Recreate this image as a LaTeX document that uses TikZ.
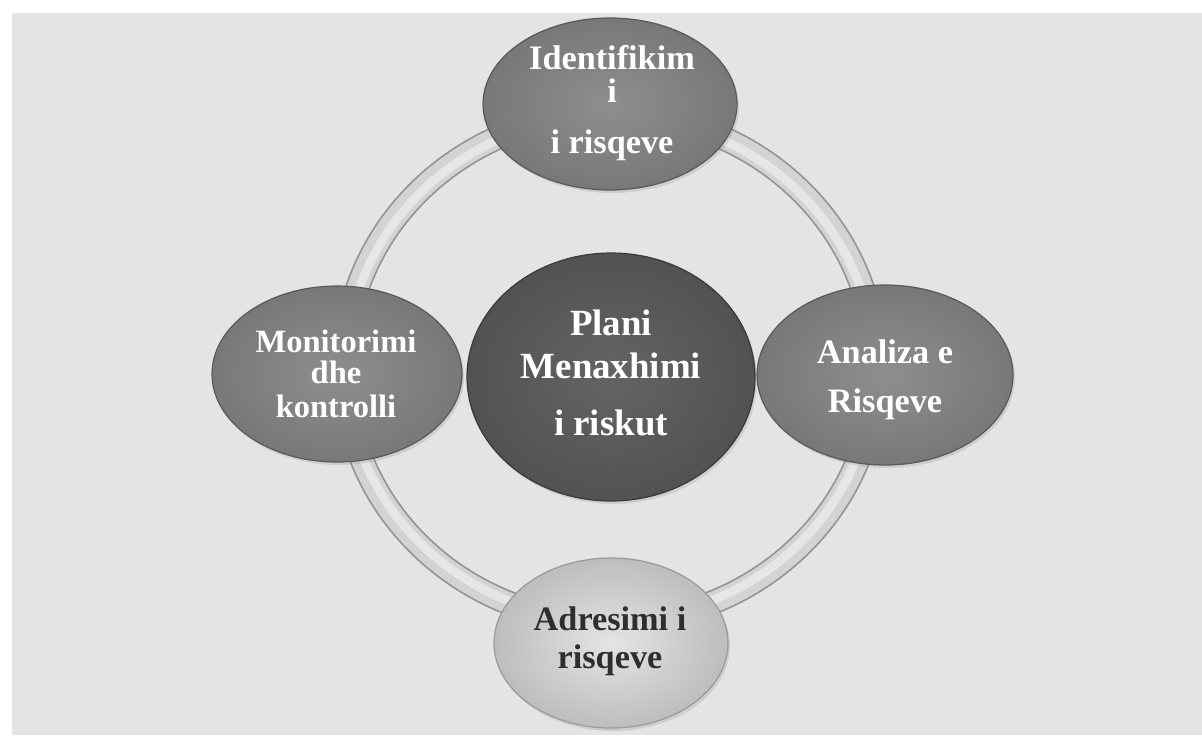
\documentclass[tikz,border=0pt]{standalone}
\usepackage{fontspec}
\setmainfont{Liberation Serif}
\usetikzlibrary{shapes.geometric,shadows}
\definecolor{bgc}{HTML}{E4E4E4}
\definecolor{ringedge}{HTML}{949494}
\definecolor{ringfill}{HTML}{D3D3D3}
\definecolor{ringhi}{HTML}{E6E6E6}
\definecolor{midin}{HTML}{8E8E8E}
\definecolor{midout}{HTML}{787878}
\definecolor{midedge}{HTML}{5A5A5A}
\definecolor{darkin}{HTML}{646464}
\definecolor{darkout}{HTML}{525252}
\definecolor{darkedge}{HTML}{3A3A3A}
\definecolor{lightin}{HTML}{E4E4E4}
\definecolor{lightout}{HTML}{BDBDBD}
\definecolor{lightedge}{HTML}{9A9A9A}
\definecolor{darktext}{HTML}{2E2E2E}
\tikzset{
  blob/.style={ellipse, inner sep=0pt, line width=0.7pt,
    drop shadow={opacity=0.22, shadow xshift=0.04cm, shadow yshift=-0.06cm}},
  midblob/.style={blob, draw=midedge, inner color=midin, outer color=midout},
  darkblob/.style={blob, draw=darkedge, inner color=darkin, outer color=darkout},
  lightblob/.style={blob, draw=lightedge, inner color=lightin, outer color=lightout},
  wtxt/.style={anchor=base, inner sep=0pt, text=white, font=\bfseries\fontsize{19.5}{22}\selectfont},
  ctxt/.style={anchor=base, inner sep=0pt, text=white, font=\bfseries\fontsize{21}{24}\selectfont},
  dtxt/.style={anchor=base, inner sep=0pt, text=darktext, font=\bfseries\fontsize{19.5}{22}\selectfont}
}
\begin{document}
\begin{tikzpicture}[x=0.02cm,y=-0.02cm]
\useasboundingbox (0,0) rectangle (1202,735);
\fill[white] (0,0) rectangle (1202,735);
\fill[bgc] (12,13) rectangle (1202,735);
% ring
\coordinate (ring) at (610,368);
\draw[line width=14pt, ringedge] (ring) ellipse [x radius=266, y radius=254];
\draw[line width=12pt, ringfill] (ring) ellipse [x radius=266, y radius=254];
\draw[line width=5pt, ringhi] (ring) ellipse [x radius=264, y radius=252];
% nodes
\node[midblob, minimum width=5.08cm, minimum height=3.44cm] (ident) at (610,104) {};
\node[midblob, minimum width=5.0cm, minimum height=3.52cm] (monit) at (337,374) {};
\node[midblob, minimum width=5.12cm, minimum height=3.6cm] (anal) at (885,375) {};
\node[lightblob, minimum width=4.68cm, minimum height=3.4cm] (adres) at (611,643) {};
\node[darkblob, minimum width=5.76cm, minimum height=4.96cm] (plan) at (611,377) {};
% texts
\node[wtxt] (ident1) at (612,69) {Identifikim};
\node[wtxt] (ident2) at (612,102) {i};
\node[wtxt] (ident3) at (612,153) {i risqeve};
\node[wtxt, font=\bfseries\fontsize{18.5}{22}\selectfont] (monit1) at (336,352) {Monitorimi};
\node[wtxt, font=\bfseries\fontsize{18.5}{22}\selectfont] (monit2) at (336,383) {dhe};
\node[wtxt, font=\bfseries\fontsize{18.5}{22}\selectfont] (monit3) at (336,417) {kontrolli};
\node[wtxt] (anal1) at (885,363) {Analiza e};
\node[wtxt] (anal2) at (885,412) {Risqeve};
\node[dtxt] (adres1) at (610,630) {Adresimi i};
\node[dtxt] (adres2) at (610,668) {risqeve};
\node[ctxt] (plan1) at (611,335) {Plani};
\node[ctxt] (plan2) at (611,378) {Menaxhimi};
\node[ctxt] (plan3) at (611,435) {i riskut};
\end{tikzpicture}
\end{document}
